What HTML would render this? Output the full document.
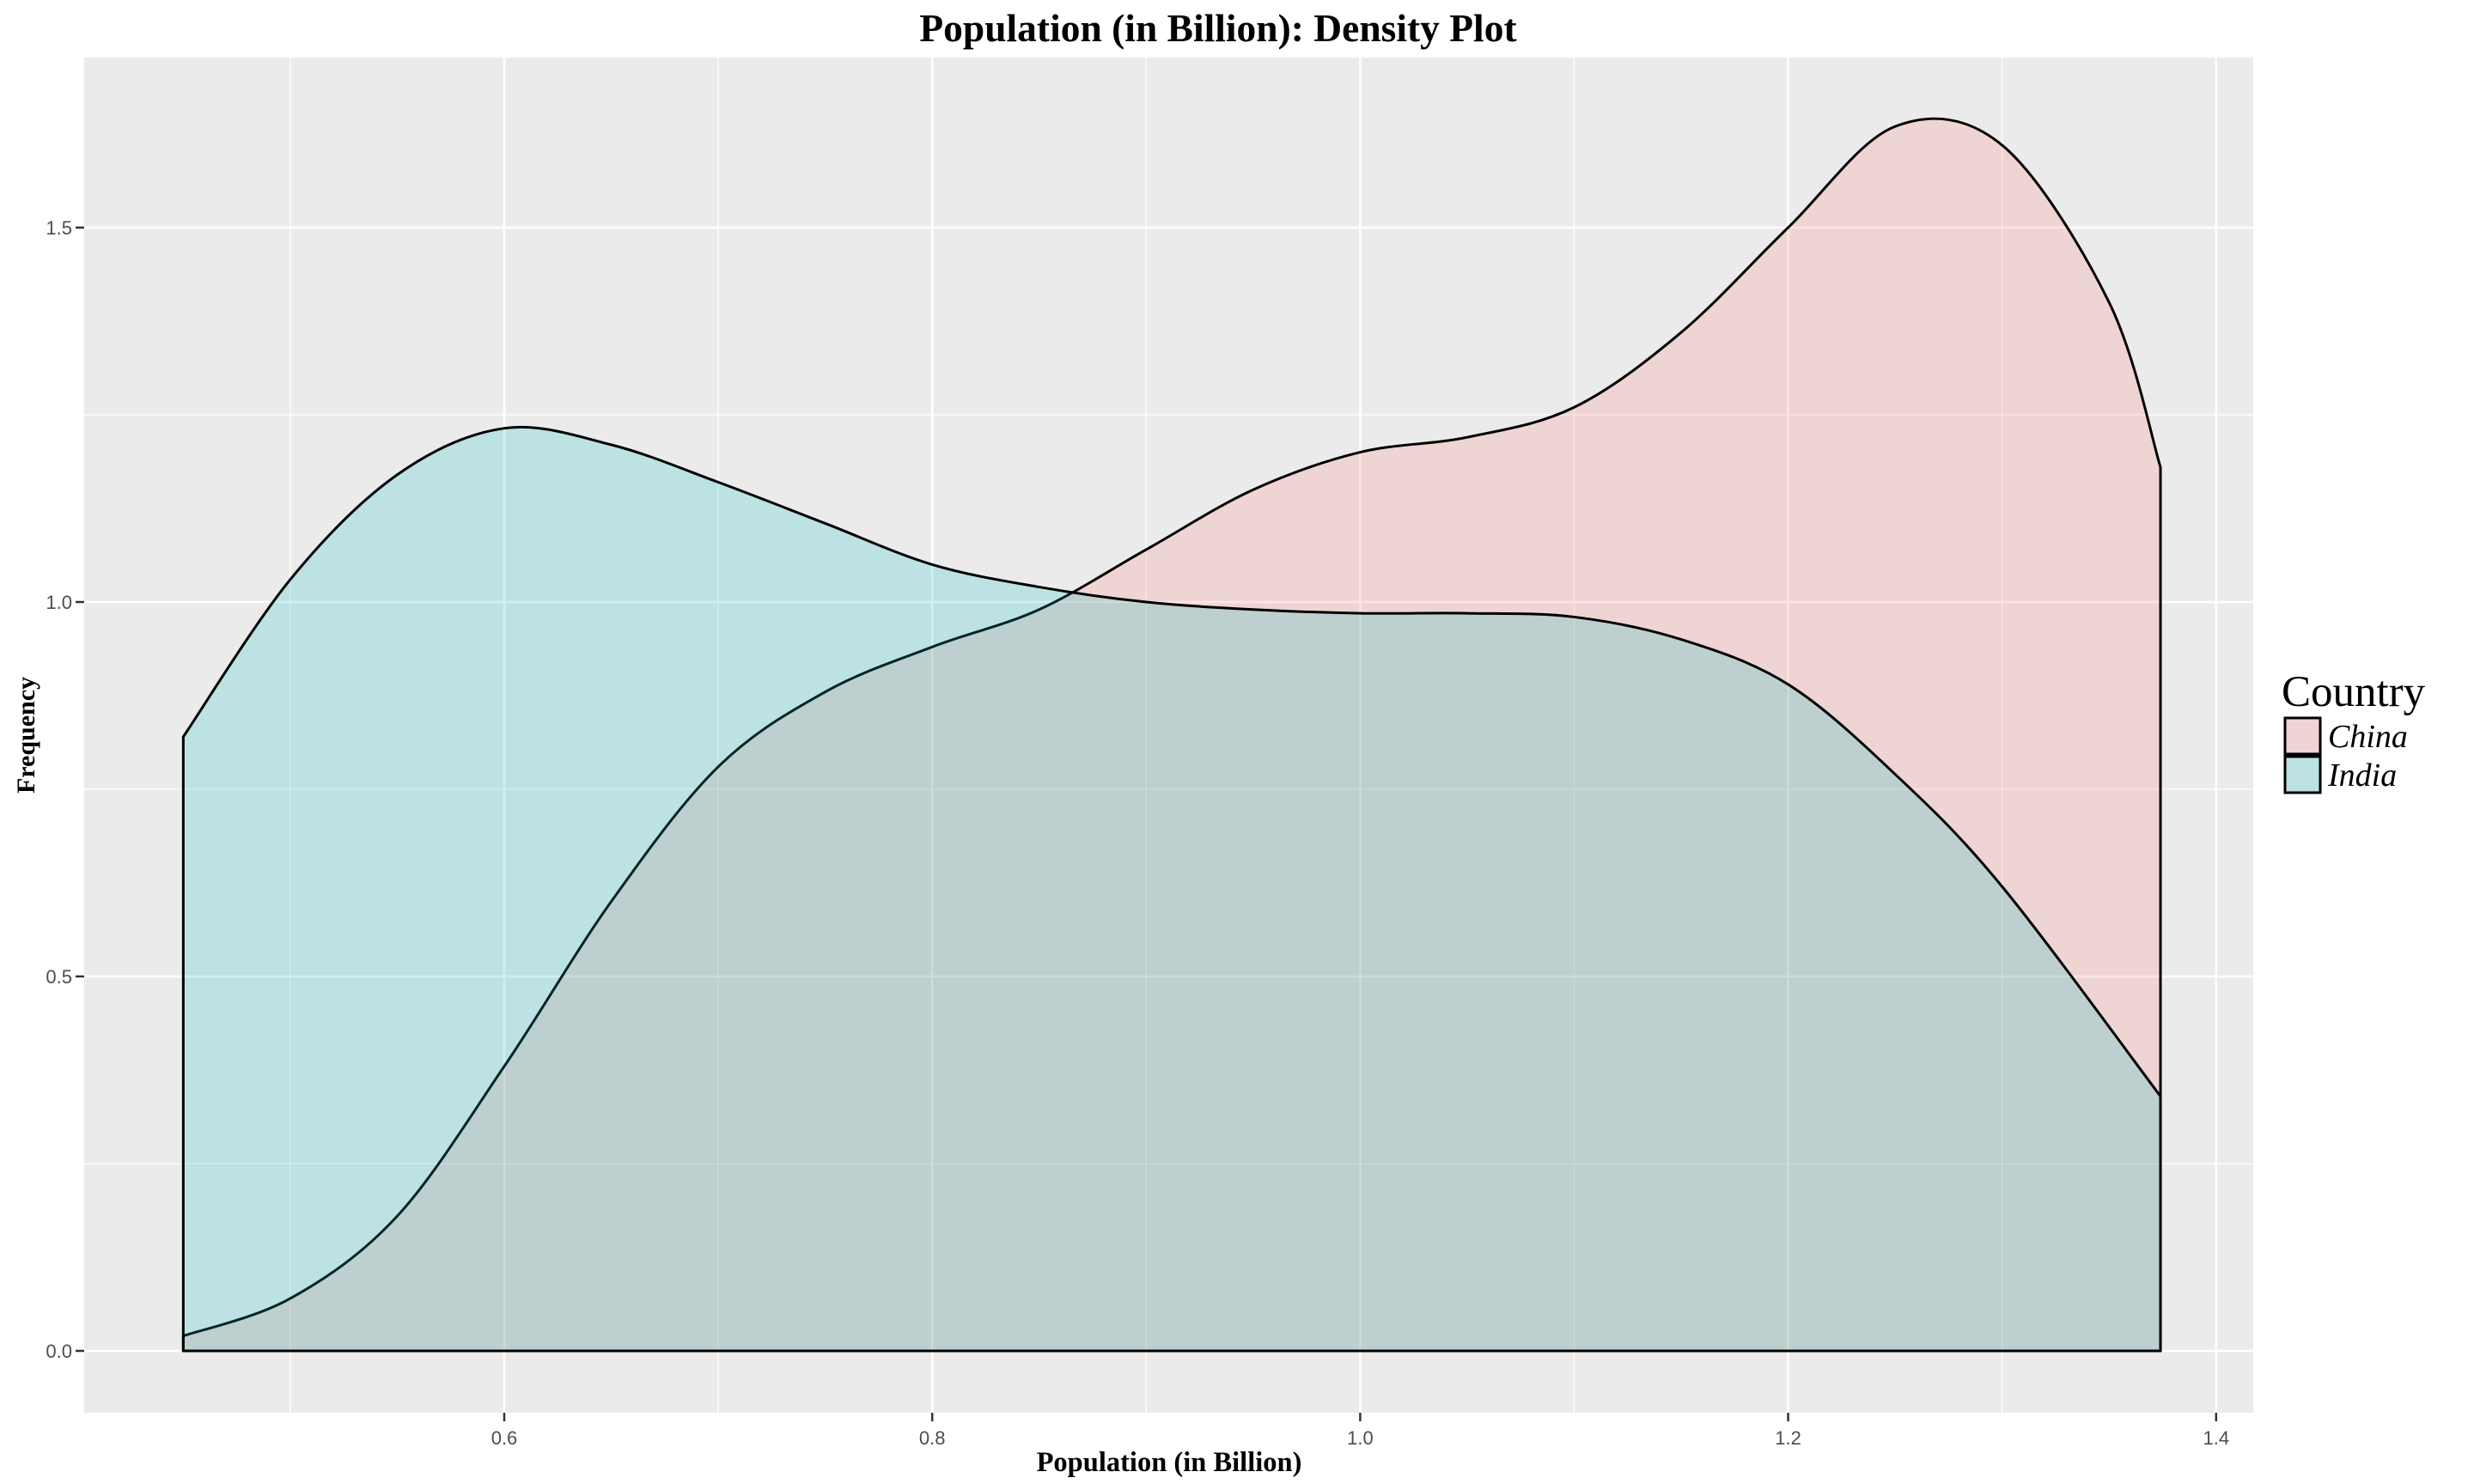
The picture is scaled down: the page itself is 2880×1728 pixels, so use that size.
<!DOCTYPE html>
<html><head><meta charset="utf-8"><style>
html,body{margin:0;padding:0;background:#fff;}
svg{display:block;}
</style></head><body>
<svg id="chart" width="2880" height="1728" viewBox="0 0 2880 1728" xmlns="http://www.w3.org/2000/svg">
<rect x="0" y="0" width="2880" height="1728" fill="#fff"/>
<rect x="98" y="67" width="2525" height="1578" fill="#EBEBEB"/>
<g id="grid"></g>
<g id="series"></g>
<g id="axes"></g>
<text x="1418" y="48" text-anchor="middle" font-family="Liberation Serif, serif" font-weight="bold" font-size="45.5">Population (in Billion): Density Plot</text>
<text x="1361" y="1713" text-anchor="middle" font-family="Liberation Serif, serif" font-weight="bold" font-size="32.5">Population (in Billion)</text>
<text transform="translate(40,856) rotate(-90)" text-anchor="middle" font-family="Liberation Serif, serif" font-weight="bold" font-size="30">Frequency</text>
<g>
<text x="2656" y="822" font-family="Liberation Serif, serif" font-size="51">Country</text>
<rect x="2660" y="836" width="41" height="42" fill="#EBEBEB"/>
<rect x="2660" y="836" width="41" height="42" fill="rgba(248,118,109,0.2)" stroke="#000" stroke-width="3"/>
<text x="2710" y="870" font-family="Liberation Serif, serif" font-style="italic" font-size="38">China</text>
<rect x="2660" y="881" width="41" height="42" fill="#EBEBEB"/>
<rect x="2660" y="881" width="41" height="42" fill="rgba(0,191,196,0.2)" stroke="#000" stroke-width="3"/>
<text x="2710" y="915" font-family="Liberation Serif, serif" font-style="italic" font-size="38">India</text>
</g>
</svg>
<script>
const xMajorTicks = [0.6, 0.8, 1.0, 1.2, 1.4];
const xTickLabels = ["0.6", "0.8", "1.0", "1.2", "1.4"];
const xMinorTicks = [0.5, 0.7, 0.9, 1.1, 1.3];
const yMajorTicks = [0, 0.5, 1.0, 1.5];
const yTickLabels = ["0.0", "0.5", "1.0", "1.5"];
const yMinorTicks = [0.25, 0.75, 1.25];
const chinaX = [0.45,0.5,0.55,0.6,0.65,0.7,0.75,0.8,0.85,0.9,0.95,1.0,1.05,1.1,1.15,1.2,1.25,1.3,1.35,1.374];
const chinaY = [0.02,0.07,0.18,0.38,0.6,0.78,0.88,0.94,0.99,1.07,1.15,1.2,1.22,1.26,1.36,1.5,1.635,1.61,1.4,1.18];
const indiaX = [0.45,0.5,0.55,0.6,0.65,0.7,0.75,0.8,0.85,0.9,0.95,1.0,1.05,1.1,1.15,1.2,1.25,1.3,1.374];
const indiaY = [0.82,1.03,1.17,1.232,1.21,1.16,1.105,1.05,1.02,1.0,0.99,0.985,0.985,0.98,0.95,0.89,0.77,0.62,0.34];

const NS = "http://www.w3.org/2000/svg";
const PL = 98, PR = 2623, PT = 67, PB = 1645;
function xs(v){ return 587 + (v - 0.6) * 2491; }
function ys(v){ return 1573 - 872 * v; }
function mk(tag, attrs, parent){ const e = document.createElementNS(NS, tag); for (const k in attrs) e.setAttribute(k, attrs[k]); parent.appendChild(e); return e; }

const grid = document.getElementById('grid');
const axes = document.getElementById('axes');
yMinorTicks.forEach(v => {
  const l = mk('line', {x1:PL, x2:PR, y1:ys(v), y2:ys(v), stroke:'#fff', 'stroke-width':1.3}, grid);
  
  
});
xMinorTicks.forEach(v => {
  const l = mk('line', {x1:xs(v), x2:xs(v), y1:PT, y2:PB, stroke:'#fff', 'stroke-width':1.3}, grid);
  
  
});
yMajorTicks.forEach((v, i) => {
  const l = mk('line', {x1:PL, x2:PR, y1:ys(v), y2:ys(v), stroke:'#fff', 'stroke-width':2.6}, grid);
  
  
  const t = mk('line', {x1:PL-10, x2:PL, y1:ys(v), y2:ys(v), stroke:'#333', 'stroke-width':2.5}, axes);
  
  
  const tx = mk('text', {x:PL-14, y:ys(v)+8, 'text-anchor':'end', 'font-family':'Liberation Sans, sans-serif', 'font-size':22, fill:'#4d4d4d'}, axes);
  tx.textContent = yTickLabels[i];
  
  
});
xMajorTicks.forEach((v, i) => {
  const l = mk('line', {x1:xs(v), x2:xs(v), y1:PT, y2:PB, stroke:'#fff', 'stroke-width':2.6}, grid);
  
  
  const t = mk('line', {x1:xs(v), x2:xs(v), y1:PB, y2:PB+10, stroke:'#333', 'stroke-width':2.5}, axes);
  
  
  const tx = mk('text', {x:xs(v), y:PB+37, 'text-anchor':'middle', 'font-family':'Liberation Sans, sans-serif', 'font-size':22, fill:'#4d4d4d'}, axes);
  tx.textContent = xTickLabels[i];
  
  
});

function smoothPath(X, Y){
  const p = X.map((x, i) => [xs(x), ys(Y[i])]);
  let d = 'M' + xs(X[0]) + ',' + ys(0) + 'L' + p[0][0] + ',' + p[0][1];
  for (let i = 0; i < p.length - 1; i++){
    const p0 = p[Math.max(0, i-1)], p1 = p[i], p2 = p[i+1], p3 = p[Math.min(p.length-1, i+2)];
    const c1 = [p1[0] + (p2[0]-p0[0])/6, p1[1] + (p2[1]-p0[1])/6];
    const c2 = [p2[0] - (p3[0]-p1[0])/6, p2[1] - (p3[1]-p1[1])/6];
    d += 'C' + c1[0] + ',' + c1[1] + ' ' + c2[0] + ',' + c2[1] + ' ' + p2[0] + ',' + p2[1];
  }
  d += 'L' + xs(X[X.length-1]) + ',' + ys(0) + 'Z';
  return d;
}
const series = document.getElementById('series');
const china = mk('path', {d:smoothPath(chinaX, chinaY), fill:'rgba(248,118,109,0.2)', stroke:'#000', 'stroke-width':3, 'stroke-linejoin':'round'}, series);


const india = mk('path', {d:smoothPath(indiaX, indiaY), fill:'rgba(0,191,196,0.2)', stroke:'#000', 'stroke-width':3, 'stroke-linejoin':'round'}, series);


</script>
</body></html>
